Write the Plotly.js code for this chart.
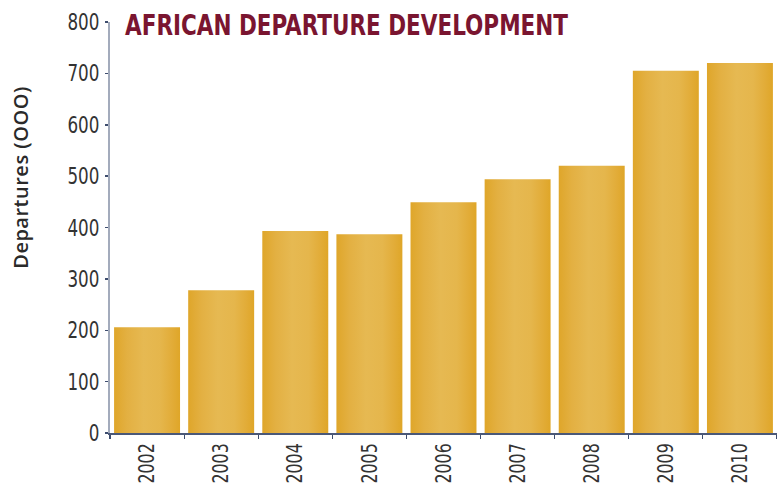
<!DOCTYPE html>
<html>
<head>
<meta charset="utf-8">
<script src="https://cdn.plot.ly/plotly-3.0.1.min.js"></script>
<style>
  html, body { margin: 0; padding: 0; background: #fff; }
  #chart { width: 777px; height: 487px; }
</style>
</head>
<body>
<div id="chart"></div>
<script>
const years = ['2002', '2003', '2004', '2005', '2006', '2007', '2008', '2009', '2010'];
const departures = [206, 278, 393, 387, 449, 494, 520, 705, 720];
const yTickVals = [0, 100, 200, 300, 400, 500, 600, 700, 800];
const chartTitle = 'AFRICAN DEPARTURE DEVELOPMENT';
const yTitle = 'Departures (OOO)';

const narrow = '"Liberation Sans Narrow", "DejaVu Sans Condensed", Arial, sans-serif';

const trace = {
  type: 'bar',
  x: years,
  y: departures,
  marker: { color: '#e2b040', line: { width: 0 } },
  hoverinfo: 'none'
};

const layout = {
  width: 777,
  height: 487,
  margin: { l: 110, r: 0, t: 22, b: 54, pad: 0 },
  paper_bgcolor: '#ffffff',
  plot_bgcolor: '#ffffff',
  bargap: 0.11,
  showlegend: false,
  title: {
    text: chartTitle,
    font: { family: narrow, size: 28, weight: 'bold', color: '#7a1530' },
    x: 0.0225, xref: 'paper', xanchor: 'left',
    y: 1 - 25 / 487, yref: 'container', yanchor: 'middle'
  },
  xaxis: {
    type: 'category',
    tickangle: -90,
    ticks: 'outside',
    tickson: 'boundaries',
    ticklen: 4,
    tickwidth: 1.2,
    tickcolor: '#3e4d6e',
    showline: true,
    linecolor: '#4a5878',
    linewidth: 1.5,
    showgrid: false,
    tickfont: { family: narrow, size: 22, color: '#333333' },
    zeroline: false,
    fixedrange: true
  },
  yaxis: {
    range: [0, 800],
    tickvals: yTickVals,
    ticktext: yTickVals.map(String),
    ticks: 'outside',
    ticklen: 3,
    tickwidth: 1.5,
    tickcolor: '#3e4d6e',
    showline: true,
    linecolor: '#a3abbc',
    linewidth: 2,
    showgrid: false,
    zeroline: false,
    tickfont: { family: narrow, size: 23, color: '#333333' },
    ticklabelstandoff: 1,
    fixedrange: true
  },
  annotations: [{
    text: yTitle,
    textangle: -90,
    xref: 'paper', yref: 'paper',
    x: (20 - 110) / 667, y: (433 - 178) / 411,
    xanchor: 'center', yanchor: 'middle',
    showarrow: false,
    font: { family: '"Open Sans", "Noto Sans", sans-serif', size: 20, weight: 600, color: '#2a2a2a' }
  }]
};

function squeeze(el, factor, target, mode) {
  const w = el.getComputedTextLength();
  const len = target != null ? target : w * factor;
  el.setAttribute('textLength', len);
  el.setAttribute('lengthAdjust', mode || 'spacingAndGlyphs');
}

function finish() {
  const gd = document.getElementById('chart');
  const svg = gd.querySelector('.main-svg');
  if (!svg) return;
  const ns = 'http://www.w3.org/2000/svg';
  let defs = svg.querySelector('defs');
  if (!defs) {
    defs = document.createElementNS(ns, 'defs');
    svg.insertBefore(defs, svg.firstChild);
  }
  if (!svg.querySelector('#barGrad')) {
    const g = document.createElementNS(ns, 'linearGradient');
    g.setAttribute('id', 'barGrad');
    g.setAttribute('x1', '0'); g.setAttribute('y1', '0');
    g.setAttribute('x2', '1'); g.setAttribute('y2', '0');
    const stops = [
      [0, '#dfa62a'], [0.2, '#e3b042'], [0.45, '#e6b952'],
      [0.7, '#e5b64c'], [0.88, '#e2ac38'], [1, '#dfa628']
    ];
    stops.forEach(([o, c]) => {
      const s = document.createElementNS(ns, 'stop');
      s.setAttribute('offset', o);
      s.setAttribute('stop-color', c);
      g.appendChild(s);
    });
    defs.appendChild(g);
  }
  gd.querySelectorAll('.barlayer .point path').forEach(p => {
    p.style.fill = 'url(#barGrad)';
  });
  // condensed look for text
  const t = gd.querySelector('.gtitle');
  if (t) squeeze(t, null, 443);
  gd.querySelectorAll('.ytick text').forEach(el => squeeze(el, 0.81));
  gd.querySelectorAll('.xtick text').forEach(el => squeeze(el, 0.8));
  const a = gd.querySelector('.annotation-text');
  if (a) squeeze(a, null, 182, 'spacing');
}

Plotly.newPlot('chart', [trace], layout, { displayModeBar: false, staticPlot: true })
  .then(finish);
</script>
</body>
</html>
